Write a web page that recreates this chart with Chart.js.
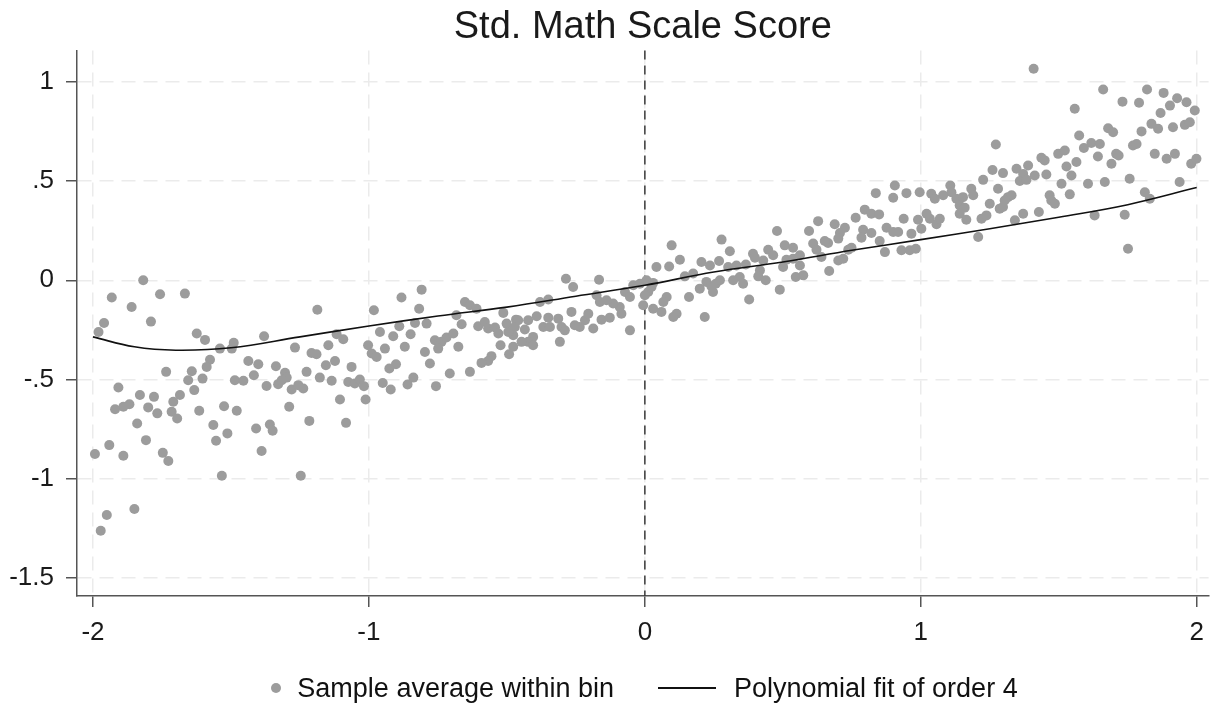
<!DOCTYPE html>
<html>
<head>
<meta charset="utf-8">
<title>Std. Math Scale Score</title>
<script src="https://cdn.jsdelivr.net/npm/chart.js@4.4.1/dist/chart.umd.min.js"></script>
<style>
  html, body { margin: 0; padding: 0; background: #fff; }
  #wrap { position: relative; width: 1214px; height: 706px; }
  #legend {
    position: absolute; left: 77px; width: 1135px; top: 672px; height: 32px;
    display: flex; justify-content: center; align-items: center;
    font: 27px 'Liberation Sans', Arial, sans-serif; color: #111; white-space: nowrap;
  }
  .dot { width: 10px; height: 10px; border-radius: 50%; background: #9c9c9c; margin-right: 16px; }
  .ln { width: 58px; height: 2px; background: #111; margin: 0 18px 0 44px; }
</style>
</head>
<body>
<div id="wrap">
  <canvas id="rdChart" width="1214" height="706"></canvas>
  <div id="legend">
    <span class="dot"></span><span>Sample average within bin</span>
    <span class="ln"></span><span>Polynomial fit of order 4</span>
  </div>
</div>
<script>
// ─── DATA ────────────────────────────────────────────────
// bin averages (running variable, std. score)
const binX = [
  -1.818,-1.932,-1.757,-1.667,-1.86,-1.96,-1.79,-1.98,-1.624,-1.594,
  -1.54,-1.497,-1.49,-1.576,-1.588,-1.735,-1.642,-1.655,-1.603,-1.486,
  -1.908,-1.633,-1.685,-1.83,-1.779,-1.709,-1.868,-1.89,-1.92,-1.80,
  -1.767,-1.715,-1.695,-1.615,-1.525,-1.479,-1.84,-1.564,-1.513,-1.554,
  -1.808,-1.941,-1.993,-1.89,-1.747,-1.727,-1.533,-1.95,-1.85,-1.972,
  -1.187,-0.982,-1.38,-1.117,-1.093,-1.147,-1.268,-1.208,-1.19,-1.003,
  -0.99,-0.972,-1.437,-1.401,-1.337,-1.304,-1.298,-1.226,-1.156,-1.123,
  -1.063,-1.417,-1.455,-1.371,-1.329,-1.316,-1.28,-1.256,-1.238,-1.178,
  -1.135,-1.075,-1.051,-1.033,-1.018,-1.289,-1.105,-1.012,-1.216,-1.083,
  -1.409,-1.359,-1.349,-1.389,-1.247,
  -0.809,-0.882,-0.818,-0.652,-0.634,-0.61,-0.683,-0.513,-0.467,-0.89,
  -0.833,-0.791,-0.664,-0.604,-0.58,-0.568,-0.543,-0.531,-0.501,-0.96,
  -0.912,-0.849,-0.761,-0.737,-0.719,-0.694,-0.942,-0.87,-0.797,-0.749,
  -0.676,-0.523,-0.477,-0.492,-0.779,-0.902,-0.926,-0.556,-0.568,-0.592,
  -0.707,-0.634,-0.95,-0.921,-0.839,-0.86,-0.757,
  0.042,-0.286,-0.26,-0.166,-0.042,-0.018,0.006,0.03,0.012,0.024,
  -0.006,0.03,-0.072,-0.054,-0.091,-0.085,-0.115,-0.139,-0.054,-0.157,
  -0.127,-0.187,-0.217,-0.205,-0.236,-0.254,-0.266,-0.302,-0.29,-0.314,
  -0.308,-0.35,-0.368,-0.344,-0.38,-0.35,-0.392,-0.423,-0.459,-0.471,
  -0.435,-0.405,-0.423,-0.447,-0.405,-0.477,-0.495,-0.175,-0.163,
  0.479,0.278,0.097,0.308,0.127,0.088,0.205,0.236,0.269,0.302,
  0.332,0.366,0.392,0.399,0.447,0.465,0.507,0.537,0.513,0.501,
  0.429,0.417,0.145,0.175,0.344,0.356,0.32,0.411,0.438,0.547,
  0.223,0.241,0.257,0.272,0.199,0.247,0.0,0.079,0.067,0.06,
  0.115,0.103,0.16,0.217,0.378,0.489,
  0.906,0.837,0.9,0.948,0.996,1.038,1.051,0.797,0.821,0.849,
  0.764,0.938,0.99,1.021,1.033,0.628,0.688,0.725,0.595,0.791,
  0.821,0.785,0.876,0.9,0.918,0.966,1.002,1.057,0.707,0.701,
  0.664,0.652,0.61,0.622,0.749,0.737,0.851,0.87,0.93,0.96,
  0.982,0.537,0.562,0.64,0.701,0.719,0.562,0.574,0.668,
  1.558,1.272,1.574,1.498,1.522,1.437,1.449,1.564,1.528,1.546,
  1.26,1.298,1.347,1.389,1.371,1.359,1.383,1.413,1.455,1.226,
  1.28,1.51,1.183,1.19,1.107,1.111,1.081,1.129,1.153,1.316,
  1.329,1.304,1.467,1.473,1.486,1.54,1.141,1.159,1.25,1.286,
  1.298,1.141,1.165,1.22,1.238,1.069,1.341,1.371,1.428,1.208,1.409,
  1.661,1.82,1.88,1.731,1.791,1.929,1.963,1.993,1.903,1.869,
  1.679,1.697,1.836,1.86,1.914,1.957,1.975,1.8,1.618,1.649,
  1.591,1.769,1.782,1.708,1.717,1.642,1.848,1.891,1.921,1.691,
  1.98,1.999,1.606,1.667,1.757,1.938,1.812,1.83,1.63,1.739,1.751
];
const binY = [
  0.0,-0.087,-0.07,-0.067,-0.134,-0.215,-0.208,-0.26,-0.268,-0.30,
  -0.344,-0.344,-0.315,-0.40,-0.436,-0.461,-0.458,-0.503,-0.495,-0.503,
  -0.54,-0.553,-0.578,-0.578,-0.587,-0.612,-0.624,-0.637,-0.649,-0.64,
  -0.67,-0.662,-0.696,-0.657,-0.634,-0.657,-0.721,-0.729,-0.771,-0.808,
  -0.805,-0.83,-0.875,-0.884,-0.869,-0.91,-0.984,-1.182,-1.152,-1.261,
  -0.148,-0.151,-0.282,-0.272,-0.297,-0.327,-0.339,-0.366,-0.372,-0.327,
  -0.369,-0.386,-0.406,-0.423,-0.433,-0.466,-0.49,-0.461,-0.428,-0.406,
  -0.436,-0.478,-0.506,-0.532,-0.523,-0.503,-0.55,-0.528,-0.545,-0.49,
  -0.506,-0.512,-0.52,-0.5,-0.533,-0.637,-0.6,-0.6,-0.708,-0.718,
  -0.746,-0.726,-0.758,-0.86,-0.984,
  -0.047,-0.087,-0.143,-0.109,-0.126,-0.143,-0.176,-0.164,-0.198,-0.231,
  -0.215,-0.218,-0.221,-0.231,-0.21,-0.243,-0.238,-0.268,-0.218,-0.26,
  -0.282,-0.272,-0.302,-0.31,-0.288,-0.268,-0.344,-0.335,-0.361,-0.344,
  -0.335,-0.327,-0.335,-0.372,-0.419,-0.423,-0.444,-0.382,-0.406,-0.416,
  -0.469,-0.461,-0.517,-0.55,-0.49,-0.525,-0.533,
  0.067,0.008,-0.034,0.003,-0.025,-0.017,0.0,-0.013,-0.059,-0.034,
  -0.126,-0.143,-0.059,-0.084,-0.134,-0.168,-0.117,-0.1,-0.252,-0.198,
  -0.188,-0.243,-0.201,-0.168,-0.235,-0.226,-0.159,-0.235,-0.252,-0.193,
  -0.31,-0.188,-0.235,-0.235,-0.109,-0.097,-0.181,-0.201,-0.201,-0.235,
  -0.248,-0.285,-0.31,-0.31,-0.327,-0.277,-0.26,-0.075,-0.109,
  0.248,0.205,0.176,0.146,0.104,0.07,0.092,0.075,0.097,0.067,
  0.075,0.08,0.134,0.114,0.154,0.126,0.176,0.164,0.104,0.067,
  0.1,0.05,0.02,0.034,0.017,-0.017,0.0,0.02,0.0,0.017,
  -0.008,-0.03,-0.017,0.0,-0.042,-0.059,-0.075,-0.084,-0.109,-0.159,
  -0.168,-0.185,-0.084,-0.185,-0.097,-0.047,
  0.478,0.439,0.416,0.439,0.444,0.436,0.411,0.356,0.335,0.332,
  0.315,0.31,0.305,0.335,0.31,0.298,0.282,0.265,0.248,0.255,
  0.238,0.215,0.265,0.243,0.243,0.235,0.26,0.282,0.238,0.21,
  0.188,0.198,0.185,0.154,0.164,0.154,0.198,0.142,0.151,0.151,
  0.159,0.109,0.126,0.117,0.1,0.109,0.075,0.025,0.047,
  0.864,0.684,0.729,0.637,0.654,0.617,0.604,0.596,0.573,0.528,
  0.556,0.54,0.562,0.578,0.536,0.5,0.506,0.528,0.533,0.506,
  0.461,0.486,0.461,0.428,0.478,0.444,0.428,0.411,0.419,0.419,
  0.428,0.402,0.428,0.402,0.386,0.433,0.377,0.366,0.386,0.361,
  0.369,0.335,0.305,0.31,0.327,0.31,0.302,0.335,0.344,0.218,1.066,
  0.961,0.961,0.944,0.9,0.894,0.917,0.897,0.855,0.88,0.843,
  0.766,0.746,0.788,0.763,0.771,0.783,0.796,0.75,0.692,0.687,
  0.666,0.679,0.687,0.637,0.629,0.624,0.637,0.612,0.637,0.587,
  0.587,0.612,0.486,0.495,0.512,0.495,0.444,0.411,0.327,0.33,0.159
];

// 4th-order fit, read at a few x positions
const fitX = [-2, -1.85, -1.7, -1.5, -1.25, -1, -0.75, -0.5, -0.25, 0, 0.25, 0.5, 0.75, 1, 1.25, 1.5, 1.75, 2];
const fitY = [-0.285, -0.335, -0.352, -0.34, -0.285, -0.23, -0.18, -0.135, -0.08, -0.025, 0.042, 0.092, 0.151, 0.205, 0.26, 0.318, 0.381, 0.467];

const xTicks = [-2, -1, 0, 1, 2];
const xTickLabels = ['-2', '-1', '0', '1', '2'];
const yTicks = [-1.5, -1, -0.5, 0, 0.5, 1];
const yTickLabels = ['-1.5', '-1', '-.5', '0', '.5', '1'];
const cutoff = 0;

// ─── STYLE ───────────────────────────────────────────────
const FONT = "'Liberation Sans', Arial, sans-serif";
const C = {
  dots: '#9c9c9c',
  fit:  '#111111',
  grid: '#ebebeb',
  axis: '#555555',
  text: '#1a1a1a',
  cut:  '#3a3a3a',
};

// dashed vertical line at the cutoff
const cutoffLine = {
  id: 'cutoffLine',
  beforeDatasetsDraw(chart) {
    const { ctx, chartArea: a, scales: { x } } = chart;
    const px = x.getPixelForValue(cutoff);
    ctx.save();
    ctx.strokeStyle = C.cut;
    ctx.lineWidth = 1.5;
    ctx.setLineDash([9, 6]);
    ctx.beginPath();
    ctx.moveTo(px, a.top);
    ctx.lineTo(px, a.bottom);
    ctx.stroke();
    ctx.restore();
  },
};

const axisCommon = {
  grid: { color: C.grid, lineWidth: 1.5, tickColor: C.axis, tickLength: 11, tickWidth: 1.5 },
  border: { color: C.axis, width: 1.5, dash: [14, 8] },
};

new Chart(document.getElementById('rdChart'), {
  type: 'scatter',
  data: {
    datasets: [
      {
        type: 'line',
        label: 'Polynomial fit of order 4',
        data: fitX.map((x, i) => ({ x, y: fitY[i] })),
        borderColor: C.fit,
        borderWidth: 1.6,
        pointRadius: 0,
        tension: 0.4,
        fill: false,
        order: 0,
      },
      {
        label: 'Sample average within bin',
        data: binX.map((x, i) => ({ x, y: binY[i] })),
        backgroundColor: C.dots,
        borderWidth: 0,
        pointRadius: 5,
        pointHoverRadius: 5,
        order: 1,
      },
    ],
  },
  options: {
    responsive: false,
    animation: false,
    layout: { padding: { left: 0, right: 2, top: 0, bottom: 0 } },
    plugins: {
      legend: { display: false },
      tooltip: { enabled: false },
      title: {
        display: true,
        text: 'Std. Math Scale Score',
        fullSize: false,
        color: C.text,
        font: { family: FONT, size: 38, weight: 'normal' },
        padding: { top: 5, bottom: 0 },
      },
    },
    scales: {
      x: {
        type: 'linear',
        min: -2.058, max: 2.043,
        afterBuildTicks: s => { s.ticks = xTicks.map(v => ({ value: v })); },
        afterFit: s => { s.height = 110; },
        ticks: {
          callback: (v, i) => xTickLabels[i],
          color: C.text,
          font: { family: FONT, size: 26 },
          padding: 10,
          maxRotation: 0,
          autoSkip: false,
        },
        ...axisCommon,
      },
      y: {
        min: -1.59, max: 1.157,
        afterBuildTicks: s => { s.ticks = yTicks.map(v => ({ value: v })); },
        afterFit: s => { s.width = 77; },
        ticks: {
          callback: (v, i) => yTickLabels[i],
          color: C.text,
          font: { family: FONT, size: 26 },
          padding: 12,
          autoSkip: false,
        },
        ...axisCommon,
      },
    },
  },
  plugins: [cutoffLine],
});
</script>
</body>
</html>
